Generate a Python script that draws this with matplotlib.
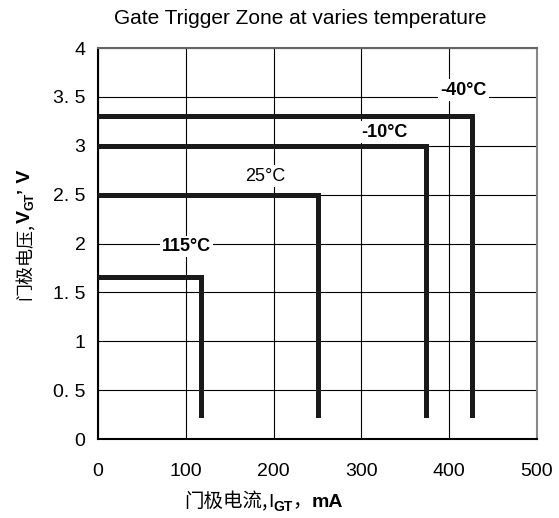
import matplotlib.pyplot as plt
from matplotlib.transforms import IdentityTransform

# Temperaturen und Grenzen der Zündzonen (I_GT in mA, V_GT in V)
temps = ['115°C', '25°C', '-10°C', '-40°C']
i_gt = [117, 251, 374, 426]
v_gt = [1.66, 2.5, 3.0, 3.3]
v_low = 0.25
label_pos = [(101, 1.97), (191, 2.69), (326, 3.14), (416, 3.57)]

x_ticks = [0, 100, 200, 300, 400, 500]
y_ticks = [0, 0.5, 1, 1.5, 2, 2.5, 3, 3.5, 4]
y_ticklabels = ['0', '0. 5', '1', '1. 5', '2', '2. 5', '3', '3. 5', '4']

cjk = ['Noto Sans CJK SC', 'DejaVu Sans']
lat = ['Liberation Sans', 'DejaVu Sans']
plt.rcParams['font.family'] = lat

fig = plt.figure(figsize=(5.59, 5.18), dpi=100)
ax = fig.add_axes([0.1753, 0.1525, 0.9606 - 0.1753, 0.9073 - 0.1525])

# Gitter
for x in x_ticks:
    ax.axvline(x, color='black', lw=0.8, zorder=1)
for y in y_ticks:
    ax.axhline(y, color='black', lw=0.8, zorder=1)

# Zonen zeichnen
for t, ig, vg, (lx, ly) in zip(temps, i_gt, v_gt, label_pos):
    ax.plot([0, ig, ig], [vg, vg, v_low], color='#1a1a1a', lw=3.6,
            solid_joinstyle='miter', zorder=3)
    ax.text(lx, ly, t, ha='center', va='center', fontsize=13,
            fontweight='bold' if t != '25°C' else 'normal', zorder=4,
            bbox=dict(facecolor='white', edgecolor='none', pad=1.5))

ax.set_xlim(0, 500)
ax.set_ylim(0, 4)
ax.set_xticks(x_ticks)
ax.set_yticks(y_ticks)
ax.set_yticklabels(y_ticklabels)
ax.tick_params(length=0, labelsize=14)
ax.tick_params(axis='x', pad=17)
ax.tick_params(axis='y', pad=9)

ax.spines['left'].set_color('black')
ax.spines['bottom'].set_color('black')
ax.spines['top'].set_color('#666666')
ax.spines['right'].set_color('#888888')
for s in ax.spines.values():
    s.set_linewidth(1.5)

fig.text(300 / 559, 1 - 18 / 518, 'Gate Trigger Zone at varies temperature',
         fontsize=15, ha='center', va='center')


# Achsentitel stückweise setzen (CJK + tiefgestellte Latein-Buchstaben)
def draw_label(pieces, center, base, rotation):
    renderer = fig.canvas.get_renderer()
    widths = []
    for s, fam, size, weight, shift in pieces:
        t = fig.text(0, 0, s, family=fam, fontsize=size, fontweight=weight)
        widths.append(t.get_window_extent(renderer).width)
        t.remove()
    pos = center - sum(widths) / 2
    for (s, fam, size, weight, shift), w in zip(pieces, widths):
        if rotation == 0:
            xy = (pos, base - shift)
        else:
            xy = (base + shift, pos)
        fig.text(xy[0], xy[1], s, family=fam, fontsize=size, fontweight=weight,
                 rotation=rotation, rotation_mode='anchor',
                 ha='left', va='baseline', transform=IdentityTransform())
        pos += w


draw_label([('门极电流,', cjk, 14, 'normal', 0),
            ('I', lat, 14, 'normal', 0),
            ('GT', lat, 10, 'bold', 4),
            ('，', cjk, 14, 'normal', 0),
            ('mA', lat, 14, 'bold', 0)],
           center=264, base=11, rotation=0)

draw_label([('门极电压,', cjk, 13, 'normal', 0),
            ('V', lat, 14, 'bold', 0),
            ('GT', lat, 9, 'bold', 4),
            ('’', lat, 13, 'bold', 0),
            (' V', lat, 14, 'bold', 0)],
           center=283, base=30, rotation=90)

fig.savefig('out.png', dpi=100)
